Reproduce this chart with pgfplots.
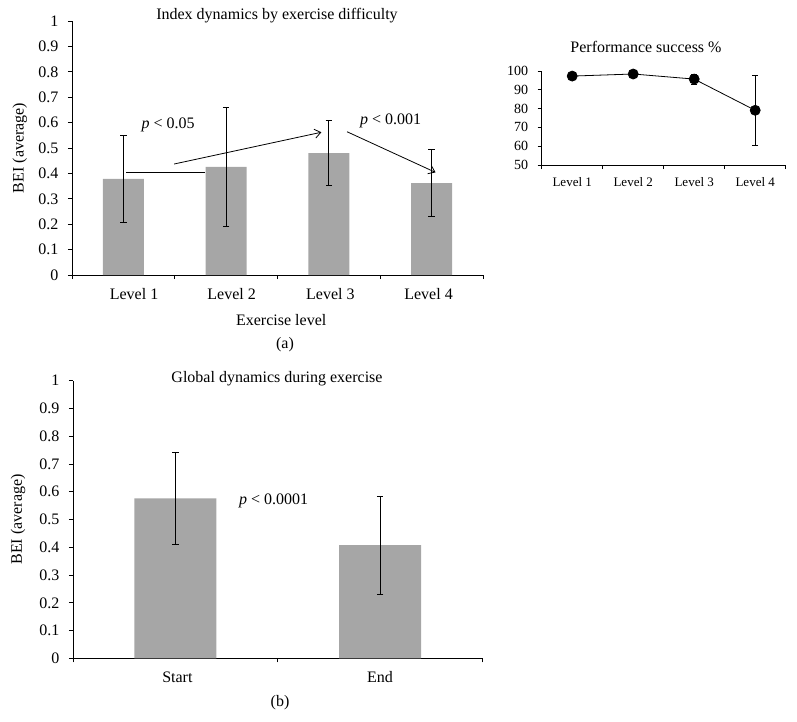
\documentclass[border=0pt]{standalone}
\usepackage{fontspec}
\setmainfont{Liberation Serif}
\usepackage{pgfplots}
\pgfplotsset{compat=1.18}
\usetikzlibrary{arrows.meta}
\definecolor{bargray}{HTML}{A6A6A6}
\begin{document}
\begin{tikzpicture}
\path[use as bounding box] (0pt,0pt) rectangle (797pt,-721pt);
\pgfplotsset{
  common/.style={
    scale only axis,
    axis x line*=bottom, axis y line*=left,
    axis line style={black, line width=0.8pt},
    tick style={black, line width=0.8pt},
    tick align=outside,
    major tick length=4pt, minor tick length=4pt,
    major x tick style={draw=none},
    /pgf/number format/assume math mode=true,
    xmin=0.5,
    clip=false,
  },
}
% ---------------- (a) ----------------
\begin{axis}[common,
  at={(72pt,-275pt)}, anchor=south west,
  width=411pt, height=254pt,
  xmax=4.5,
  ymin=0, ymax=1,
  ytick={0,0.1,0.2,0.3,0.4,0.5,0.6,0.7,0.8,0.9,1},
  yticklabels={0,0.1,0.2,0.3,0.4,0.5,0.6,0.7,0.8,0.9,1},
  xtick={1.104,2.054,3.015,3.97},
  xticklabels={Level 1,Level 2,Level 3,Level 4},
  minor xtick={0.5,1.5,2.5,3.5,4.5},
  tick label style={font=\fontsize{16}{19}\selectfont},
  xticklabel style={yshift=-6pt},
  yticklabel style={xshift=-6pt},
  xlabel={Exercise level},
  xlabel style={at={(axis description cs:0.509,-0.177)}, anchor=center, font=\fontsize{16}{19}\selectfont},
  ylabel={BEI (average)},
  ylabel style={at={(axis description cs:-0.127,0.5)}, anchor=center, rotate=0, font=\fontsize{16}{19}\selectfont},
]
\addplot[ybar, bar width=41pt, fill=bargray, draw=none,
  error bars/.cd, y dir=both, y explicit,
  error bar style={black, line width=0.8pt},
  error mark options={rotate=90, mark size=3.3pt, black, line width=0.8pt}]
  coordinates {
    (1,0.378) +- (0,0.170)
    (2,0.426) +- (0,0.235)
    (3,0.480) +- (0,0.128)
    (4,0.362) +- (0,0.133)
  };
\draw[black, line width=0.8pt] (axis cs:1.026,0.405) -- (axis cs:1.796,0.405);
\draw[black, line width=0.8pt, -{Straight Barb[length=6pt,width=9pt]}] (axis cs:1.494,0.437) -- (axis cs:2.927,0.562);
\draw[black, line width=0.8pt, -{Straight Barb[length=6pt,width=9pt]}] (axis cs:3.177,0.564) -- (axis cs:4.038,0.404);
\node[font=\fontsize{16}{19}\selectfont] at (axis cs:1.436,0.590) {\textit{p} < 0.05};
\node[font=\fontsize{16}{19}\selectfont] at (axis cs:3.60,0.606) {\textit{p} < 0.001};
\end{axis}
\node[font=\fontsize{16}{19}\selectfont] at (277pt,-16pt) {Index dynamics by exercise difficulty};
\node[font=\fontsize{16}{19}\selectfont] at (285pt,-345pt) {(a)};
% ---------------- Performance ----------------
\begin{axis}[common,
  at={(541.7pt,-165pt)}, anchor=south west,
  width=244pt, height=94pt,
  xmax=4.5,
  ymin=50, ymax=100,
  ytick={50,60,70,80,90,100},
  xtick={1,2,3,4},
  xticklabels={Level 1,Level 2,Level 3,Level 4},
  minor xtick={0.5,1.5,2.5,3.5,4.5},
  xticklabel style={font=\fontsize{13}{15}\selectfont, yshift=-5pt},
  yticklabel style={font=\fontsize{14}{16}\selectfont, xshift=-6pt},
]
\addplot[black, line width=0.8pt, mark=*, mark size=5pt, mark options={fill=black},
  error bars/.cd, y dir=both, y explicit,
  error bar style={black, line width=0.8pt},
  error mark options={rotate=90, mark size=3pt, black, line width=0.8pt}]
  coordinates {
    (1,97.3) +- (0,0.5)
    (2,98.4) +- (0,0.5)
    (3,95.7) +- (0,2.7)
    (4,79.1) +- (0,18.8)
  };
\end{axis}
\node[font=\fontsize{16}{19}\selectfont] at (646pt,-47pt) {Performance success \%};
% ---------------- (b) ----------------
\begin{axis}[common,
  at={(73pt,-658.3pt)}, anchor=south west,
  width=409.4pt, height=277.6pt,
  xmax=2.5,
  ymin=0, ymax=1,
  ytick={0,0.1,0.2,0.3,0.4,0.5,0.6,0.7,0.8,0.9,1},
  yticklabels={0,0.1,0.2,0.3,0.4,0.5,0.6,0.7,0.8,0.9,1},
  xtick={1.01,2.0},
  xticklabels={Start,End},
  minor xtick={0.5,1.5,2.5},
  tick label style={font=\fontsize{16}{19}\selectfont},
  xticklabel style={yshift=-6pt},
  yticklabel style={xshift=-6pt},
  ylabel={BEI (average)},
  ylabel style={at={(axis description cs:-0.134,0.5)}, anchor=center, rotate=0, font=\fontsize{16}{19}\selectfont},
]
\addplot[ybar, bar width=82pt, fill=bargray, draw=none,
  error bars/.cd, y dir=both, y explicit,
  error bar style={black, line width=0.8pt},
  error mark options={rotate=90, mark size=3.3pt, black, line width=0.8pt}]
  coordinates {
    (1,0.576) +- (0,0.165)
    (2,0.408) +- (0,0.176)
  };
\node[font=\fontsize{16}{19}\selectfont] at (axis cs:1.48,0.567) {\textit{p} < 0.0001};
\end{axis}
\node[font=\fontsize{16}{19}\selectfont] at (277pt,-379pt) {Global dynamics during exercise};
\node[font=\fontsize{16}{19}\selectfont] at (280pt,-703pt) {(b)};
\end{tikzpicture}
\end{document}
